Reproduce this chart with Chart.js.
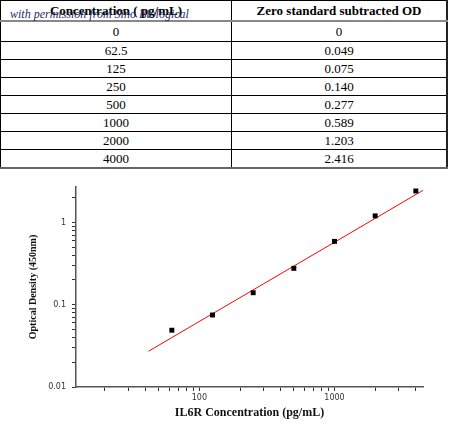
<!DOCTYPE html>
<html>
<head>
<meta charset="utf-8">
<script src="https://cdn.jsdelivr.net/npm/chart.js@4.4.1/dist/chart.umd.min.js"></script>
<style>
  html, body { margin: 0; padding: 0; background: #fff; }
  body { width: 450px; height: 434px; position: relative; overflow: hidden; }
  #std-table {
    position: absolute; top: 0; left: 0; width: 448px;
    border-collapse: collapse;
    font-family: 'Liberation Serif', 'Times New Roman', serif;
    font-size: 13px; color: #000;
  }
  #std-table th, #std-table td {
    border: 1px solid #000; padding: 0; text-align: center; line-height: 15px;
  }
  #std-table th { height: 19px; font-weight: bold; border-bottom: 2px solid #888; }
  #std-table td { height: 17px; }
  #std-table tr:first-child td { height: 19px; }
  #std-table tr:last-child td { border-bottom: 2px solid #666; }
  #std-table th:first-child, #std-table td:first-child { width: 230px; }
  #std-table th:last-child, #std-table td:last-child { border-right: 2px solid #222; }
  #note {
    position: absolute; top: 8px; left: 10px;
    font-family: 'Liberation Serif', serif; font-style: italic;
    font-size: 12px; line-height: 12px; color: #1f2d66; white-space: nowrap;
  }
  #curve { position: absolute; top: 175px; left: 0; }
</style>
</head>
<body>
<table id="std-table">
  <thead><tr><th>Concentration ( pg/mL)</th><th>Zero standard subtracted OD</th></tr></thead>
  <tbody id="std-rows"></tbody>
</table>
<div id="note">with permission from Sino Biological</div>
<canvas id="curve" width="450" height="259"></canvas>
<script>
// Standard curve data
const concentrations = [0, 62.5, 125, 250, 500, 1000, 2000, 4000];
const odValues = [0, 0.049, 0.075, 0.140, 0.277, 0.589, 1.203, 2.416];

// Fitted line end points
const fitX = [42, 4516];
const fitY = [0.0272, 2.455];

// Labelled ticks
const xTickLabels = [100, 1000];
const yTickLabels = [0.01, 0.1, 1];

const xMin = 12.2, xMax = 4520;
const yMin = 0.01, yMax = 2.7;

// Table
const rows = document.getElementById('std-rows');
concentrations.forEach(function(c, i) {
  const tr = document.createElement('tr');
  const od = odValues[i] === 0 ? '0' : odValues[i].toFixed(3);
  tr.innerHTML = '<td>' + c + '</td><td>' + od + '</td>';
  rows.appendChild(tr);
});

// 1..9 x 10^n ticks between min and max
function logTicks(min, max) {
  const out = [];
  for (let e = Math.floor(Math.log10(min)); e <= Math.ceil(Math.log10(max)); e++) {
    for (let m = 1; m < 10; m++) {
      const v = m * Math.pow(10, e);
      if (v >= min * 0.9999 && v <= max) out.push({ value: v });
    }
  }
  return out;
}

function labelFor(list) {
  return function(v) {
    const hit = list.find(t => Math.abs(v - t) / t < 1e-6);
    return hit === undefined ? '' : String(hit);
  };
}

const points = [];
concentrations.forEach(function(c, i) {
  if (c > 0) points.push({ x: c, y: odValues[i] });
});
const fitLine = fitX.map((x, i) => ({ x: x, y: fitY[i] }));

const tickFont = { family: 'DejaVu Sans', size: 8 };
const titleFont = { family: 'Liberation Serif', size: 12, weight: 'bold' };

new Chart(document.getElementById('curve').getContext('2d'), {
  type: 'scatter',
  data: {
    datasets: [{
      data: points,
      pointStyle: 'rect',
      pointRadius: 3.5,
      pointHoverRadius: 3.5,
      backgroundColor: '#000',
      borderWidth: 0
    }, {
      data: fitLine,
      showLine: true,
      borderColor: '#ff0000',
      borderWidth: 1,
      pointRadius: 0,
      fill: false
    }]
  },
  options: {
    responsive: false,
    animation: false,
    layout: { padding: { top: 12, right: 27, left: 0, bottom: 0 } },
    plugins: { legend: { display: false }, tooltip: { enabled: false } },
    scales: {
      x: {
        type: 'logarithmic',
        position: 'bottom',
        min: xMin,
        max: xMax,
        afterBuildTicks: s => { s.ticks = logTicks(xMin, xMax); },
        afterFit: s => { s.height = 47; },
        grid: { drawOnChartArea: false, drawTicks: true, tickLength: 4, color: '#333', tickColor: '#333' },
        border: { display: true, color: '#555', width: 1.5 },
        ticks: { autoSkip: false, maxRotation: 0, padding: 2.5, color: '#333', font: tickFont, callback: labelFor(xTickLabels) },
        title: { display: true, text: 'IL6R Concentration (pg/mL)', color: '#111', font: titleFont, padding: { top: 0, bottom: 14 } }
      },
      y: {
        type: 'logarithmic',
        position: 'left',
        min: yMin,
        max: yMax,
        afterBuildTicks: s => { s.ticks = logTicks(yMin, yMax); },
        afterFit: s => { s.width = 76; },
        grid: { drawOnChartArea: false, drawTicks: true, tickLength: 4, color: '#333', tickColor: '#333' },
        border: { display: true, color: '#555', width: 1.5 },
        ticks: { autoSkip: false, padding: 6, color: '#333', font: tickFont, callback: labelFor(yTickLabels) },
        title: { display: true, text: 'Optical Density (450nm)', color: '#111', font: { family: 'Liberation Serif', size: 10, weight: 'bold' }, padding: { top: 27, bottom: 0 } }
      }
    }
  }
});
</script>
</body>
</html>
